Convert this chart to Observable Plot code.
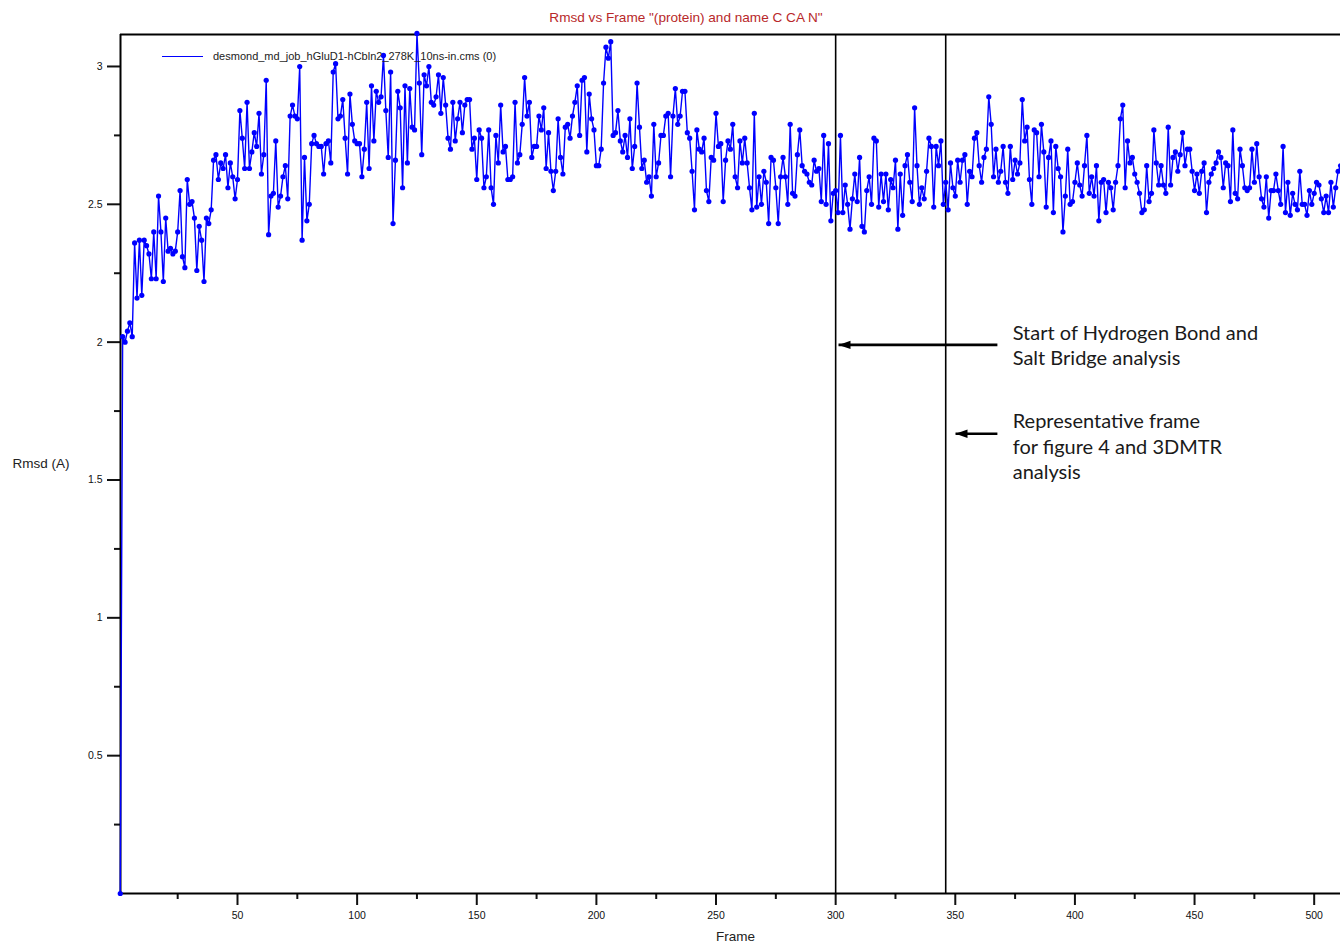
<!DOCTYPE html>
<html><head><meta charset="utf-8">
<script src="https://cdn.jsdelivr.net/npm/d3@7"></script>
<script src="https://cdn.jsdelivr.net/npm/@observablehq/plot@0.6"></script>
<style>
html,body{margin:0;padding:0;background:#fff;}
body{width:1340px;height:944px;overflow:hidden;position:relative;font-family:"Liberation Sans",Arial,sans-serif;}
#title{height:30px;box-sizing:border-box;padding-top:10px;line-height:16px;font-size:13.6px;color:#b8282a;text-align:center;padding-left:32px;white-space:nowrap;}
#legend{position:absolute;left:162px;top:49px;line-height:14px;font-size:11px;color:#222;display:flex;align-items:center;white-space:nowrap;}
#legend .swatch{display:inline-block;width:41px;height:0;border-top:1.5px solid #0000ff;margin-right:10px;}
</style></head>
<body>
<div id="title">Rmsd vs Frame "(protein) and name C CA N"</div>
<div id="chart"></div>
<div id="legend"><span class="swatch"></span><span>desmond_md_job_hGluD1-hCbln2_278K_10ns-in.cms (0)</span></div>
<script>
// RMSD values, one per frame, starting at frame 1
const rmsd = [
0,
2.02,2.00,2.04,2.07,2.02,2.36,2.16,2.37,2.17,2.37,2.35,2.32,2.23,2.40,2.23,2.53,2.40,2.22,2.45,2.33,2.34,2.32,2.33,2.40,2.55,2.31,2.27,2.59,2.50,2.51,2.45,2.26,2.42,2.37,2.22,2.45,2.43,2.48,2.66,2.68,2.59,2.65,2.63,2.68,2.56,2.65,2.60,2.52,2.59,2.84,2.74,2.63,2.87,2.63,2.69,2.76,2.71,2.83,2.61,2.68,2.95,2.39,
2.53,2.54,2.73,2.49,2.53,2.60,2.64,2.52,2.82,2.86,2.82,2.81,3.00,2.37,2.67,2.44,2.50,2.72,2.75,2.72,2.71,2.71,2.61,2.72,2.73,2.65,2.98,3.01,2.81,2.82,2.88,2.74,2.61,2.90,2.79,2.73,2.72,2.72,2.60,2.70,2.87,2.63,2.93,2.73,2.91,2.87,2.89,3.04,2.84,2.67,2.98,2.43,2.66,2.91,2.85,2.56,2.93,2.65,2.92,2.78,2.77,3.12,2.94,
2.68,2.97,2.93,3.00,2.87,2.86,2.89,2.97,2.83,2.96,2.86,2.74,2.70,2.87,2.73,2.81,2.87,2.76,2.86,2.88,2.88,2.70,2.74,2.59,2.77,2.74,2.56,2.60,2.77,2.56,2.50,2.75,2.65,2.86,2.69,2.71,2.59,2.59,2.60,2.87,2.65,2.68,2.79,2.96,2.82,2.87,2.67,2.71,2.71,2.82,2.77,2.85,2.63,2.76,2.62,2.55,2.62,2.81,2.67,2.61,2.78,2.79,2.74,
2.82,2.87,2.93,2.75,2.95,2.96,2.69,2.90,2.81,2.77,2.64,2.64,2.70,2.94,3.07,3.03,3.09,2.75,2.76,2.84,2.73,2.69,2.75,2.67,2.81,2.63,2.71,2.94,2.78,2.63,2.66,2.58,2.60,2.53,2.79,2.60,2.65,2.75,2.75,2.82,2.83,2.60,2.82,2.92,2.79,2.82,2.91,2.91,2.76,2.74,2.62,2.48,2.77,2.70,2.69,2.74,2.55,2.51,2.67,2.66,2.83,
2.71,2.72,2.51,2.66,2.73,2.70,2.79,2.60,2.56,2.73,2.65,2.74,2.65,2.56,2.48,2.83,2.49,2.60,2.50,2.62,2.58,2.43,2.67,2.66,2.56,2.43,2.60,2.67,2.60,2.50,2.79,2.54,2.53,2.68,2.77,2.64,2.62,2.61,2.58,2.57,2.66,2.62,2.63,2.51,2.75,2.50,2.72,2.44,2.54,2.55,2.47,2.75,2.47,2.57,2.50,2.41,2.52,2.61,2.51,2.67,2.42,2.40,2.55,2.60,2.50,
2.74,2.73,2.49,2.61,2.51,2.61,2.48,2.59,2.56,2.66,2.41,2.61,2.46,2.64,2.68,2.58,2.51,2.85,2.64,2.50,2.56,2.52,2.62,2.74,2.71,2.49,2.71,2.64,2.73,2.50,2.58,2.48,2.65,2.56,2.53,2.66,2.58,2.66,2.68,2.50,2.62,2.60,2.74,2.76,2.64,2.58,2.67,2.70,2.89,2.79,2.60,2.70,2.58,2.62,2.71,2.58,2.54,2.71,2.59,2.66,2.61,
2.65,2.88,2.73,2.78,2.59,2.50,2.77,2.76,2.60,2.79,2.69,2.49,2.67,2.73,2.47,2.71,2.63,2.60,2.40,2.53,2.70,2.50,2.51,2.58,2.65,2.57,2.53,2.64,2.75,2.54,2.60,2.53,2.64,2.44,2.58,2.59,2.47,2.58,2.56,2.48,2.58,2.64,2.81,2.86,2.56,2.73,2.65,2.67,2.61,2.58,2.54,2.47,2.48,2.64,2.51,2.54,2.77,2.65,2.57,2.64,2.57,2.54,2.78,
2.57,2.67,2.69,2.62,2.68,2.76,2.64,2.70,2.70,2.62,2.55,2.61,2.54,2.62,2.65,2.47,2.58,2.61,2.63,2.65,2.69,2.67,2.56,2.65,2.64,2.51,2.77,2.54,2.52,2.70,2.64,2.56,2.55,2.56,2.70,2.58,2.72,2.60,2.52,2.49,2.60,2.45,2.55,2.55,2.61,2.55,2.50,2.71,2.47,2.58,2.46,2.54,2.50,2.48,2.62,2.50,2.50,2.46,2.55,2.50,2.54,2.58,2.57,2.52,2.47,2.53,2.47,2.58,2.49,2.56,2.62,2.64
];
const xMajorTicks = [50,100,150,200,250,300,350,400,450,500];
const xMinorTicks = [25,75,125,175,225,275,325,375,425,475];
const yMajorTicks = [0.5,1,1.5,2,2.5,3];
const yMinorTicks = [0.25,0.75,1.25,1.75,2.25,2.75];
const markerFrames = [300, 346];
const noteTexts = ["Start of Hydrogen Bond and\nSalt Bridge analysis", "Representative frame\nfor figure 4 and 3DMTR\nanalysis"];
const noteFrames = [374, 374];
const noteRmsd = [1.993, 1.625];
const arrowFromFrames = [367.6, 367.6];
const arrowToFrames = [301.2, 350.1];
const arrowRmsd = [1.99, 1.668];

const xDomain = [1.1, 511];
const yDomain = [0, 3.116];

const data = rmsd.map((v, i) => ({frame: i + 1, rmsd: v}));
const notes = noteTexts.map((t, i) => ({text: t, frame: noteFrames[i], rmsd: noteRmsd[i]}));
const arrows = arrowFromFrames.map((f, i) => ({x1: f, x2: arrowToFrames[i], y: arrowRmsd[i]}));

// narrow filled arrow head pointing left, tip at the anchor point
const leftHead = {draw(ctx) { ctx.moveTo(0, 0); ctx.lineTo(12, -4.2); ctx.lineTo(12, 4.2); ctx.closePath(); }};

const chart = Plot.plot({
  width: 1340, height: 914,
  marginLeft: 120, marginRight: 0, marginTop: 4, marginBottom: 51,
  x: {domain: xDomain, axis: null},
  y: {domain: yDomain, axis: null},
  style: {fontFamily: "'Liberation Sans', Arial, sans-serif", fontSize: "10px", background: "white", overflow: "visible", color: "#111"},
  marks: [
    Plot.axisX(xMajorTicks, {tickSize: 12, tickPadding: 6, strokeWidth: 2, label: null, fontSize: 10.5, tickFormat: d => String(d)}),
    Plot.axisX(xMinorTicks, {tickSize: 6, strokeWidth: 2, label: null, tickFormat: () => ""}),
    Plot.axisY(yMajorTicks, {tickSize: 13, tickPadding: 5, strokeWidth: 2, label: null, fontSize: 10.5, tickFormat: d => String(d)}),
    Plot.axisY(yMinorTicks, {tickSize: 6, strokeWidth: 2, label: null, tickFormat: () => ""}),
    Plot.ruleY([yDomain[1]], {stroke: "#000", strokeWidth: 2}),
    Plot.ruleY([0], {stroke: "#000", strokeWidth: 2}),
    Plot.ruleX([xDomain[0]], {stroke: "#000", strokeWidth: 2}),
    Plot.ruleX(markerFrames, {stroke: "#000", strokeWidth: 1.6}),
    Plot.line(data, {x: "frame", y: "rmsd", stroke: "#0000ff", strokeWidth: 1.4}),
    Plot.dot(data, {x: "frame", y: "rmsd", r: 2.6, fill: "#0000ff", stroke: "none"}),
    Plot.link(arrows, {x1: "x1", x2: "x2", y1: "y", y2: "y", stroke: "#000", strokeWidth: 2.6}),
    Plot.dot(arrows, {x: "x2", y: "y", symbol: leftHead, fill: "#000", stroke: "none"}),
    Plot.text(notes, {x: "frame", y: "rmsd", text: "text", textAnchor: "start", lineAnchor: "middle", lineHeight: 1.27, fontFamily: "Lato, 'Open Sans', sans-serif", fontSize: 20, fill: "#1a1a1a"}),
    Plot.text(["Rmsd (A)"], {frameAnchor: "left", dx: -108, textAnchor: "start", fontSize: 13.5, fill: "#222"}),
    Plot.text(["Frame"], {frameAnchor: "bottom", dy: 47, dx: 5, fontSize: 13.5, fill: "#222"})
  ]
});
document.getElementById("chart").appendChild(chart);
</script>
</body></html>
